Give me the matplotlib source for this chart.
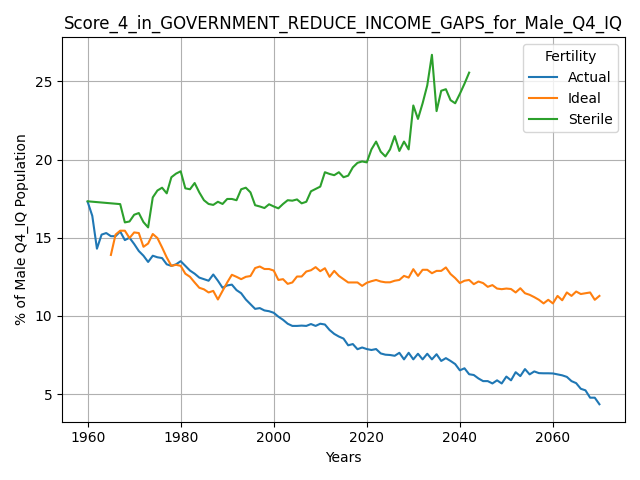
import matplotlib
matplotlib.use("Agg")
import matplotlib.pyplot as plt

# --- Data ---
actual_years = list(range(1960, 2071))
actual = [
    17.3, 16.4, 14.3, 15.2, 15.3, 15.1, 15.1, 15.4, 14.85, 15.0,   # 1960s
    14.6, 14.15, 13.85, 13.45, 13.85, 13.75, 13.7, 13.3, 13.2, 13.3,  # 1970s
    13.5, 13.2, 12.9, 12.7, 12.45, 12.35, 12.25, 12.65, 12.25, 11.8,  # 1980s
    11.95, 12.0, 11.65, 11.45, 11.05, 10.75, 10.45, 10.5, 10.35, 10.3,  # 1990s
    10.2, 9.95, 9.75, 9.5, 9.36, 9.36, 9.38, 9.36, 9.48, 9.36,  # 2000s
    9.5, 9.45, 9.1, 8.85, 8.68, 8.55, 8.12, 8.2, 7.87, 7.98,  # 2010s
    7.88, 7.82, 7.88, 7.6, 7.52, 7.5, 7.45, 7.64, 7.22, 7.64,  # 2020s
    7.22, 7.58, 7.22, 7.58, 7.22, 7.55, 7.12, 7.3, 7.12, 6.92,  # 2030s
    6.52, 6.65, 6.27, 6.22, 6.0, 5.83, 5.83, 5.68, 5.88, 5.68,  # 2040s
    6.12, 5.88, 6.4, 6.15, 6.6, 6.26, 6.45, 6.34, 6.33, 6.33,  # 2050s
    6.32, 6.26, 6.2, 6.1, 5.83, 5.7, 5.34, 5.24, 4.77, 4.77,  # 2060s
    4.35,
]

ideal_years = list(range(1965, 2071))
ideal = [
    13.9, 15.2, 15.45, 15.45, 14.98,  # 1965-69
    15.34, 15.3, 14.42, 14.63, 15.24, 14.98, 14.38, 13.74, 13.2, 13.27,  # 1970s
    13.2, 12.7, 12.5, 12.14, 11.8, 11.7, 11.5, 11.6, 11.05, 11.6,  # 1980s
    12.14, 12.63, 12.5, 12.35, 12.5, 12.55, 13.06, 13.16, 13.0, 13.0,  # 1990s
    12.9, 12.3, 12.35, 12.05, 12.14, 12.52, 12.52, 12.84, 12.92, 13.12,  # 2000s
    12.86, 13.05, 12.5, 12.88, 12.56, 12.35, 12.14, 12.14, 12.14, 11.92,  # 2010s
    12.12, 12.22, 12.3, 12.2, 12.15, 12.15, 12.25, 12.3, 12.56, 12.45,  # 2020s
    12.99, 12.56, 12.95, 12.95, 12.73, 12.88, 12.88, 13.1, 12.68, 12.42,  # 2030s
    12.1, 12.25, 12.3, 12.03, 12.2, 12.1, 11.86, 11.97, 11.75, 11.71,  # 2040s
    11.75, 11.72, 11.5, 11.77, 11.45, 11.35, 11.2, 11.03, 10.8, 11.03,  # 2050s
    10.8, 11.28, 11.0, 11.5, 11.28, 11.56, 11.4, 11.45, 11.5, 11.03,  # 2060s
    11.28,
]

sterile_years = [1960] + list(range(1967, 2043))
sterile = [
    17.33,
    17.15, 15.98, 16.04,  # 1967-69
    16.47, 16.58, 16.0, 15.66, 17.58, 18.02, 18.2, 17.84, 18.87, 19.1,  # 1970s
    19.25, 18.16, 18.1, 18.5, 17.9, 17.4, 17.16, 17.1, 17.3, 17.16,  # 1980s
    17.48, 17.48, 17.4, 18.1, 18.2, 17.9, 17.08, 17.0, 16.9, 17.14,  # 1990s
    17.0, 16.88, 17.16, 17.4, 17.37, 17.45, 17.2, 17.3, 17.97, 18.12,  # 2000s
    18.27, 19.19, 19.08, 19.0, 19.19, 18.87, 18.97, 19.5, 19.79, 19.88,  # 2010s
    19.82, 20.65, 21.15, 20.5, 20.2, 20.65, 21.5, 20.55, 21.15, 20.65,  # 2020s
    23.46, 22.6, 23.6, 24.75, 26.7, 23.1, 24.4, 24.5, 23.8, 23.6,  # 2030s
    24.2, 24.85, 25.56,  # 2040-42
]

title = "Score_4_in_GOVERNMENT_REDUCE_INCOME_GAPS_for_Male_Q4_IQ"

fig, ax = plt.subplots(figsize=(6.4, 4.8), dpi=100)
ax.plot(actual_years, actual, label="Actual")
ax.plot(ideal_years, ideal, label="Ideal")
ax.plot(sterile_years, sterile, label="Sterile")

ax.set_title(title)
ax.set_xlabel("Years")
ax.set_ylabel("% of Male Q4_IQ Population")
ax.grid(True)
ax.legend(title="Fertility", loc="upper right")

plt.tight_layout()
plt.savefig("out.png")
